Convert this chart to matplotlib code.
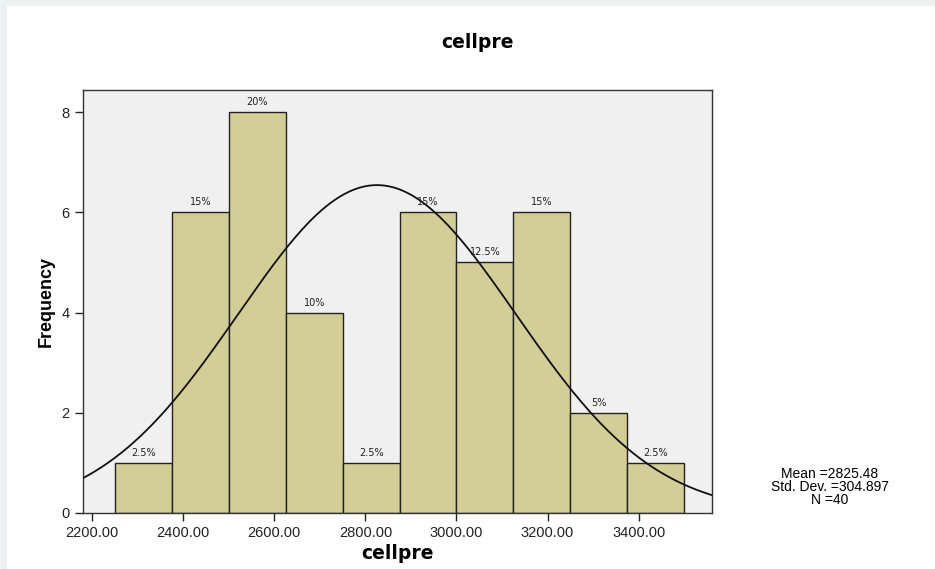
import matplotlib.pyplot as plt
from matplotlib.patches import Rectangle
import numpy as np

plt.rcParams['font.family'] = ['Liberation Sans', 'DejaVu Sans']

# histogram data
bin_left = [2250, 2375, 2500, 2625, 2750, 2875, 3000, 3125, 3250, 3375]
bin_width = 125
counts = [1, 6, 8, 4, 1, 6, 5, 6, 2, 1]
pct_labels = ["2.5%", "15%", "20%", "10%", "2.5%", "15%", "12.5%", "15%", "5%", "2.5%"]
mean = 2825.48
std = 304.897
n_obs = 40
xticks = [2200, 2400, 2600, 2800, 3000, 3200, 3400]
yticks = [0, 2, 4, 6, 8]

W, H = 935, 569
fig = plt.figure(figsize=(W / 100, H / 100), dpi=100)
fig.patch.set_facecolor("#EFF0F2")
# white panel, leaving the thin grey strip on top and left
fig.patches.append(Rectangle((7 / W, 0), 1, 1 - 6 / H, transform=fig.transFigure,
                             facecolor="white", edgecolor="none", zorder=-10))

ax = fig.add_axes([83 / W, 56 / H, (712 - 83) / W, (513 - 90) / H])
ax.set_facecolor("#F0F0F0")

ax.bar(bin_left, counts, width=bin_width, align="edge", color="#D3CE97",
       edgecolor="#222222", linewidth=1.0, zorder=2)

for x, c, t in zip(bin_left, counts, pct_labels):
    ax.text(x + bin_width / 2, c + 0.1, t, ha="center", va="bottom",
            fontsize=7, color="#222222", zorder=4, family="DejaVu Sans")

# normal curve
xlo, xhi = 2180, 3561
xs = np.linspace(xlo, xhi, 400)
ys = n_obs * bin_width / (std * np.sqrt(2 * np.pi)) * np.exp(-0.5 * ((xs - mean) / std) ** 2)
ax.plot(xs, ys, color="#111111", lw=1.3, zorder=3)

ax.set_xlim(xlo, xhi)
ax.set_ylim(0, 8.44)
ax.set_xticks(xticks)
ax.set_xticklabels(["%.2f" % v for v in xticks])
ax.set_yticks(yticks)
ax.tick_params(axis="both", direction="out", length=6, width=1, labelsize=10.5, colors="#222222")
for s in ax.spines.values():
    s.set_color("#333333")
    s.set_linewidth(1.0)

ax.set_xlabel("cellpre", fontsize=13.5, fontweight="bold", labelpad=3, family="DejaVu Sans")
ax.set_ylabel("Frequency", fontsize=13, fontweight="bold", labelpad=5)
fig.text(477 / W, 1 - 42 / H, "cellpre", ha="center", va="center", fontsize=13.5,
         fontweight="bold", family="DejaVu Sans")

fig.text(830 / W, 1 - 487 / H, "Mean =%.2f\nStd. Dev. =%.3f\nN =%d" % (mean, std, n_obs),
         ha="center", va="center", fontsize=10, linespacing=0.9)

fig.savefig("out.png", dpi=100)
